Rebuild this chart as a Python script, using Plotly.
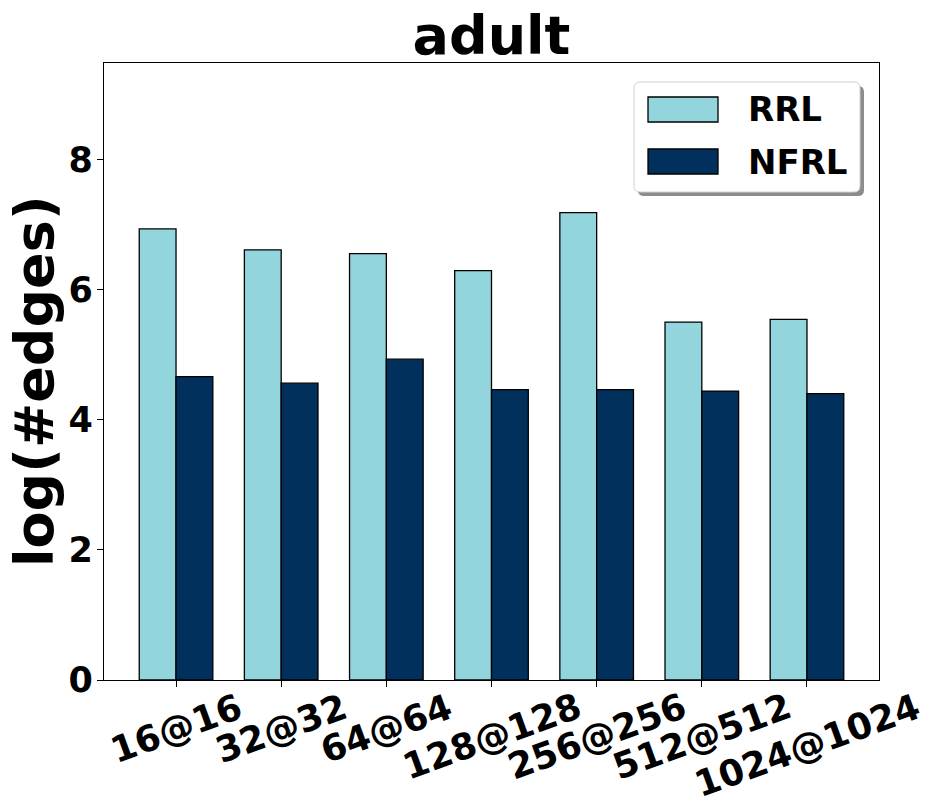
import plotly.graph_objects as go

categories = ["16@16", "32@32", "64@64", "128@128", "256@256", "512@512", "1024@1024"]
rrl_values = [6.93, 6.61, 6.55, 6.29, 7.18, 5.50, 5.54]
nfrl_values = [4.66, 4.56, 4.93, 4.46, 4.46, 4.44, 4.40]
series_names = ["RRL", "NFRL"]
y_ticks = [0, 2, 4, 6, 8]
title_text = "adult"
y_title = "log(#edges)"

C_RRL = "#93d5dd"
C_NFRL = "#01305c"
FONT = "DejaVu Sans"

W, H = 929, 809
L, R, T, B = 104, 879, 63, 680  # plot area in pixels


def px(x):
    return (x - L) / (R - L)


def py(y):
    return (B - y) / (B - T)


xpos = list(range(len(categories)))

fig = go.Figure()
fig.add_trace(go.Bar(x=xpos, y=rrl_values, name=series_names[0], offset=-0.35, width=0.35,
                     marker=dict(color=C_RRL, line=dict(color="black", width=1.3))))
fig.add_trace(go.Bar(x=xpos, y=nfrl_values, name=series_names[1], offset=0.0, width=0.35,
                     marker=dict(color=C_NFRL, line=dict(color="black", width=1.3))))

shapes = []


def rounded(x0, y0, x1, y1, r=6):
    X0, X1 = px(x0), px(x1)
    Y0, Y1 = py(y0), py(y1)
    rx = r / (R - L)
    ry = r / (B - T)
    return (f"M {X0+rx},{Y0} L {X1-rx},{Y0} Q {X1},{Y0} {X1},{Y0-ry} "
            f"L {X1},{Y1+ry} Q {X1},{Y1} {X1-rx},{Y1} L {X0+rx},{Y1} "
            f"Q {X0},{Y1} {X0},{Y1+ry} L {X0},{Y0-ry} Q {X0},{Y0} {X0+rx},{Y0} Z")


shapes.append(dict(type="path", xref="paper", yref="paper", path=rounded(638, 86, 864, 196),
                   fillcolor="#8c8c8c", line=dict(width=0), layer="above"))
shapes.append(dict(type="path", xref="paper", yref="paper", path=rounded(634, 82, 860, 192),
                   fillcolor="white", line=dict(color="#d0d0d0", width=1), layer="above"))
swatch_y = [(97, 122), (149, 174)]
colors = [C_RRL, C_NFRL]
annotations = []
for i, name in enumerate(series_names):
    y0, y1 = swatch_y[i]
    shapes.append(dict(type="rect", xref="paper", yref="paper", x0=px(648), x1=px(718),
                       y0=py(y1), y1=py(y0), fillcolor=colors[i],
                       line=dict(color="black", width=1.3), layer="above"))
    annotations.append(dict(xref="paper", yref="paper", x=px(746), y=py((y0 + y1) / 2),
                            xanchor="left", yanchor="middle", text=name, showarrow=False,
                            font=dict(family=FONT, size=34, color="black", weight="bold")))

for i, lab in enumerate(categories):
    annotations.append(dict(xref="x", yref="paper", x=i, y=0, yshift=-3,
                            xanchor="center", yanchor="top", text=lab, textangle=-20,
                            showarrow=False,
                            font=dict(family=FONT, size=36, color="black", weight="bold")))

# y-axis title
annotations.append(dict(xref="paper", yref="paper", x=px(34), y=py(381), xanchor="center",
                        yanchor="middle", text=y_title, textangle=-90, showarrow=False,
                        font=dict(family=FONT, size=54, color="black", weight="bold")))

fig.update_layout(
    width=W, height=H,
    margin=dict(l=L, r=W - R, t=T, b=H - B, pad=0),
    paper_bgcolor="white", plot_bgcolor="white",
    showlegend=False,
    title=dict(text=title_text, x=px((L + R) / 2), xref="paper", xanchor="center",
               y=1, yref="paper", yanchor="bottom", pad=dict(b=9),
               font=dict(family=FONT, size=54, color="black", weight="bold")),
    shapes=shapes, annotations=annotations,
    bargap=0.3,
)
fig.update_xaxes(range=[-0.685, 6.685], tickvals=xpos, showticklabels=False,
                 ticks="outside", ticklen=6, tickwidth=1.3, tickcolor="black",
                 showline=True, linecolor="black", linewidth=1.3, mirror=True,
                 showgrid=False, zeroline=False)
fig.update_yaxes(range=[0, 9.48], tickvals=y_ticks, ticks="outside", ticklen=6,
                 tickwidth=1.3, tickcolor="black", ticklabelstandoff=-3,
                 tickfont=dict(family=FONT, size=35, color="black", weight="bold"),
                 showline=True, linecolor="black", linewidth=1.3, mirror=True,
                 showgrid=False, zeroline=False)

fig.write_html("out.html", config={"displayModeBar": False},
               post_script="document.body.style.margin='0';")
